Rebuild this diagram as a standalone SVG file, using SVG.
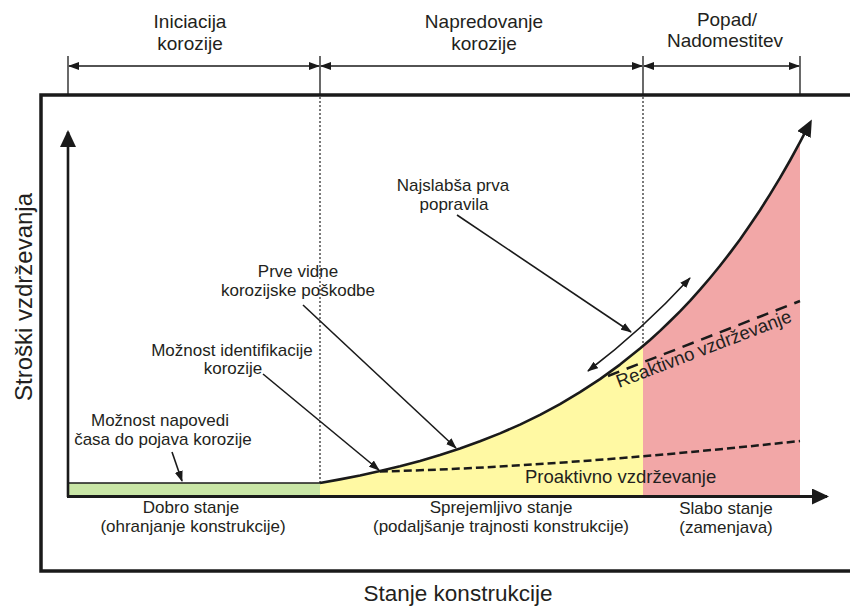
<svg xmlns="http://www.w3.org/2000/svg" width="850" height="606" viewBox="0 0 850 606">
<style>
text{font-family:"Liberation Sans",Arial,sans-serif;fill:#231f20}
.lbl{font-size:17px;text-anchor:middle}
.hd{font-size:19px;text-anchor:middle}
.ax{font-size:22.5px;text-anchor:middle}
.mt{font-size:18.5px}
.ptr{fill:none;stroke:#1a1a1a;stroke-width:1.6;marker-end:url(#sm)}
.br{fill:none;stroke:#1a1a1a;stroke-width:1.4;marker-start:url(#sm);marker-end:url(#sm)}
.tick{stroke:#1a1a1a;stroke-width:1.3}
.dot{stroke:#333;stroke-width:1.3;stroke-dasharray:2 2}
</style>
<defs>
<marker id="sm" viewBox="0 0 11 8" markerWidth="11" markerHeight="8" refX="10" refY="4" orient="auto-start-reverse" markerUnits="userSpaceOnUse"><path d="M0,0 L11,4 L0,8 z" fill="#1a1a1a"/></marker>
<marker id="big" viewBox="0 0 17 15" markerWidth="17" markerHeight="15" refX="13" refY="7.5" orient="auto" markerUnits="userSpaceOnUse"><path d="M0,0 L17,7.5 L0,15 z" fill="#1a1a1a"/></marker>
<marker id="axm" viewBox="0 0 17 16" markerWidth="17" markerHeight="16" refX="15" refY="8" orient="auto" markerUnits="userSpaceOnUse"><path d="M0,0 L17,8 L0,16 z" fill="#1a1a1a"/></marker>
</defs>
<rect width="850" height="606" fill="#fff"/>

<g id="zones">
<rect x="68" y="483" width="252" height="13" fill="#c9e6a6"/>
<path d="M320,496 L320,483 L340,479.4 L360,475.5 L380,471.1 L400,466.3 L420,460.9 L440,455 L460,448.5 L480,441.3 L500,433.4 L520,424.6 L540,414.9 L560,404.1 L580,392.2 L600,379.1 L620,364.6 L640,348.6 L643,346 L643,496 Z" fill="#fff9a3"/>
<path d="M643,496 L643,346 L650,340 L660,330.9 L670,321.3 L680,311.3 L690,300.8 L700,289.7 L710,278 L720,265.8 L730,252.9 L740,239.4 L750,225.1 L760,210.2 L770,194.4 L780,177.9 L790,160.5 L800,142.2 L800,496 Z" fill="#f2a7a7"/>
</g>

<g id="frame">
<rect x="41" y="95" width="840" height="476" fill="none" stroke="#1a1a1a" stroke-width="3.5"/>
</g>

<g id="phase-iniciacija">
<text class="hd" x="190" y="28">Iniciacija</text>
<text class="hd" x="190" y="50">korozije</text>
</g>
<g id="phase-napredovanje">
<text class="hd" x="484" y="28">Napredovanje</text>
<text class="hd" x="484" y="50">korozije</text>
</g>
<g id="phase-popad">
<text class="hd" x="727" y="26">Popad/</text>
<text class="hd" x="725" y="47">Nadomestitev</text>
</g>

<g id="label-napovedi">
<text class="lbl" x="160" y="426">Možnost napovedi</text>
<text class="lbl" x="163" y="445">časa do pojava korozije</text>
</g>
<g id="label-identifikacija">
<text class="lbl" x="232" y="356">Možnost identifikacije</text>
<text class="lbl" x="233" y="374">korozije</text>
</g>
<g id="label-prve-vidne">
<text class="lbl" x="298" y="277">Prve vidne</text>
<text class="lbl" x="298" y="296">korozijske poškodbe</text>
</g>
<g id="label-najslabsa">
<text class="lbl" x="453" y="191">Najslabša prva</text>
<text class="lbl" x="454" y="210">popravila</text>
</g>
<g id="state-dobro">
<text class="lbl" x="191" y="513">Dobro stanje</text>
<text class="lbl" x="193" y="532">(ohranjanje konstrukcije)</text>
</g>
<g id="state-sprejemljivo">
<text class="lbl" x="501" y="513">Sprejemljivo stanje</text>
<text class="lbl" x="501" y="532">(podaljšanje trajnosti konstrukcije)</text>
</g>
<g id="state-slabo">
<text class="lbl" x="726" y="514">Slabo stanje</text>
<text class="lbl" x="726" y="533">(zamenjava)</text>
</g>
<g id="axis-x-label">
<text class="ax" x="458" y="601">Stanje konstrukcije</text>
</g>
<g id="axis-y-label">
<text class="ax" style="font-size:24px" transform="translate(32,297) rotate(-90)">Stroški vzdrževanja</text>
</g>
<g id="proaktivno">
<text class="mt" x="525" y="483">Proaktivno vzdrževanje</text>
</g>
<g id="reaktivno">
<text class="mt" transform="translate(619,388) rotate(-21)">Reaktivno vzdrževanje</text>
</g>

<g id="connectors">
<line class="tick" x1="68" y1="56" x2="68" y2="95"/>
<line class="tick" x1="320" y1="56" x2="320" y2="95"/>
<line class="tick" x1="643" y1="56" x2="643" y2="95"/>
<line class="tick" x1="800" y1="56" x2="800" y2="95"/>
<line class="br" x1="69" y1="66" x2="319" y2="66"/>
<line class="br" x1="321" y1="66" x2="642" y2="66"/>
<line class="br" x1="644" y1="66" x2="799" y2="66"/>
<line class="dot" x1="320" y1="97" x2="320" y2="483"/>
<line class="dot" x1="643" y1="97" x2="643" y2="345"/>
<line x1="68" y1="483" x2="320" y2="483" stroke="#1a1a1a" stroke-width="1.5"/>
<path d="M380,471.5 Q560,467 800,441" fill="none" stroke="#1a1a1a" stroke-width="2.5" stroke-dasharray="8 4"/>
<path d="M608,376 L800,301" fill="none" stroke="#1a1a1a" stroke-width="2.5" stroke-dasharray="12 8"/>
<path d="M320,483 L340,479.4 L360,475.5 L380,471.1 L400,466.3 L420,460.9 L440,455 L460,448.5 L480,441.3 L500,433.4 L520,424.6 L540,414.9 L560,404.1 L580,392.2 L600,379.1 L620,364.6 L640,348.6 L650,340 L660,330.9 L670,321.3 L680,311.3 L690,300.8 L700,289.7 L710,278 L720,265.8 L730,252.9 L740,239.4 L750,225.1 L760,210.2 L770,194.4 L780,177.9 L790,160.5 L800,142.2 L810,123" fill="none" stroke="#1a1a1a" stroke-width="2.6" stroke-linejoin="round" marker-end="url(#big)"/>
<line x1="68" y1="497" x2="68" y2="132" stroke="#1a1a1a" stroke-width="2.6" marker-end="url(#axm)"/>
<line x1="67" y1="496.5" x2="827" y2="496.5" stroke="#1a1a1a" stroke-width="2.8" marker-end="url(#axm)"/>
<line class="ptr" x1="172" y1="452" x2="182" y2="481"/>
<line class="ptr" x1="263" y1="374" x2="379" y2="470"/>
<line class="ptr" x1="303" y1="305" x2="456" y2="448"/>
<line class="ptr" x1="457" y1="215" x2="631" y2="332"/>
<path class="ptr" d="M588,371 Q642,330 690,278" marker-start="url(#sm)"/>
</g>
</svg>
